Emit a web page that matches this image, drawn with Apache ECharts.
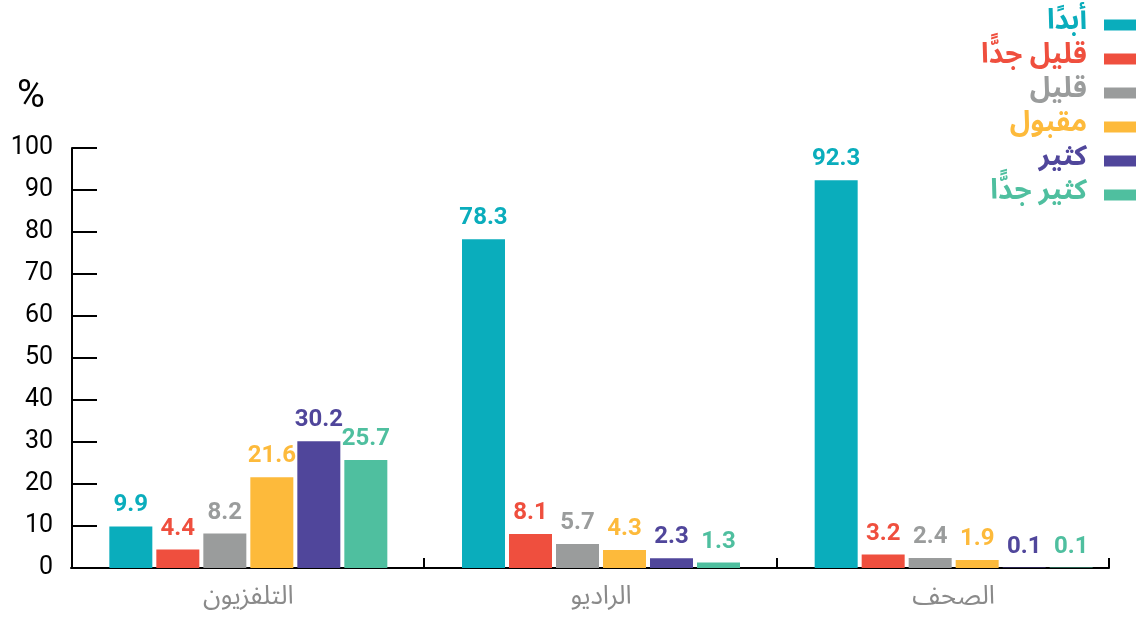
<!DOCTYPE html>
<html>
<head>
<meta charset="utf-8">
<script src="https://cdn.jsdelivr.net/npm/echarts@6/dist/echarts.min.js"></script>
<style>
  html, body { margin: 0; padding: 0; background: #fff; }
  #chart { width: 1141px; height: 619px; }
</style>
</head>
<body>
<div id="chart"></div>
<script>
// Media categories (left to right)
const categories = ['التلفزيون', 'الراديو', 'الصحف'];

// Response levels, in legend order
const seriesNames = ['أبدًا', 'قليل جدًّا', 'قليل', 'مقبول', 'كثير', 'كثير جدًّا'];
const seriesColors = ['#0AADBC', '#EF4F3E', '#9A9C9C', '#FDBA3B', '#50469B', '#4FBF9F'];

// Percentages per level, one value per category
const neverVals    = [9.9, 78.3, 92.3];
const veryLowVals  = [4.4, 8.1, 3.2];
const lowVals      = [8.2, 5.7, 2.4];
const fairVals     = [21.6, 4.3, 1.9];
const highVals     = [30.2, 2.3, 0.1];
const veryHighVals = [25.7, 1.3, 0.1];

const yTicks = [0, 10, 20, 30, 40, 50, 60, 70, 80, 90, 100];

const seriesValues = [neverVals, veryLowVals, lowVals, fairVals, highVals, veryHighVals];

const numFont = 'Roboto, "DejaVu Sans", sans-serif';
const arFont = '"Noto Sans Arabic", "DejaVu Sans", "Noto Sans", sans-serif';

const chart = echarts.init(document.getElementById('chart'), null, { renderer: 'canvas' });

const series = seriesNames.map((name, i) => ({
  name: name,
  type: 'bar',
  xAxisIndex: 0,
  yAxisIndex: 0,
  data: seriesValues[i],
  barWidth: 43,
  barGap: '9.3%',
  itemStyle: { color: seriesColors[i] },
  label: {
    show: true,
    position: 'top',
    distance: 9,
    color: seriesColors[i],
    fontFamily: numFont,
    fontWeight: 'bold',
    fontSize: 24,
    formatter: p => p.value.toFixed(1)
  }
}));

chart.setOption({
  animation: false,
  backgroundColor: '#ffffff',
  legend: {
    orient: 'vertical',
    right: 0,
    top: 5,
    align: 'right',
    itemWidth: 32,
    itemHeight: 11,
    itemGap: 4,
    icon: 'rect',
    selectedMode: false,
    data: seriesNames.map((n, i) => ({
      name: n,
      textStyle: { color: seriesColors[i] }
    })),
    textStyle: { fontFamily: arFont, fontWeight: 'bold', fontSize: 28, lineHeight: 30, padding: [0, 12, 0, 0] }
  },
  graphic: [{
    type: 'text',
    left: 17,
    top: 78,
    style: { text: '%', fontFamily: numFont, fontSize: 38, fill: '#000' }
  }],
  grid: [
    { left: 72, right: 11, top: 148, bottom: 51 },
    { left: 71, right: 32, top: 148, bottom: 51 }
  ],
  xAxis: [{
    type: 'category',
    gridIndex: 0,
    data: categories,
    axisLine: { show: false },
    axisTick: { show: false },
    axisLabel: {
      margin: 19,
      color: '#8a8a8a',
      fontFamily: arFont,
      fontSize: 26
    }
  }, {
    // baseline with separators between the category groups
    type: 'value',
    gridIndex: 1,
    min: 0,
    max: 3,
    splitLine: { show: false },
    axisLabel: { show: false },
    axisLine: { show: true, lineStyle: { color: '#000', width: 2 } },
    axisTick: {
      show: true,
      inside: true,
      length: 10,
      customValues: [1.02, 2.04, 3],
      lineStyle: { color: '#000', width: 2 }
    }
  }],
  yAxis: [{
    type: 'value',
    gridIndex: 0,
    min: 0,
    max: 100,
    interval: 10,
    splitLine: { show: false },
    axisLine: { show: true, lineStyle: { color: '#000', width: 2 } },
    axisTick: { show: true, inside: true, length: 25, lineStyle: { color: '#000', width: 2 } },
    axisLabel: {
      margin: 19,
      color: '#000',
      fontFamily: numFont,
      fontSize: 25,
      formatter: v => yTicks.includes(v) ? String(v) : ''
    }
  }, {
    type: 'value',
    gridIndex: 1,
    min: 0,
    max: 100,
    show: false
  }],
  series: series
});
</script>
</body>
</html>
